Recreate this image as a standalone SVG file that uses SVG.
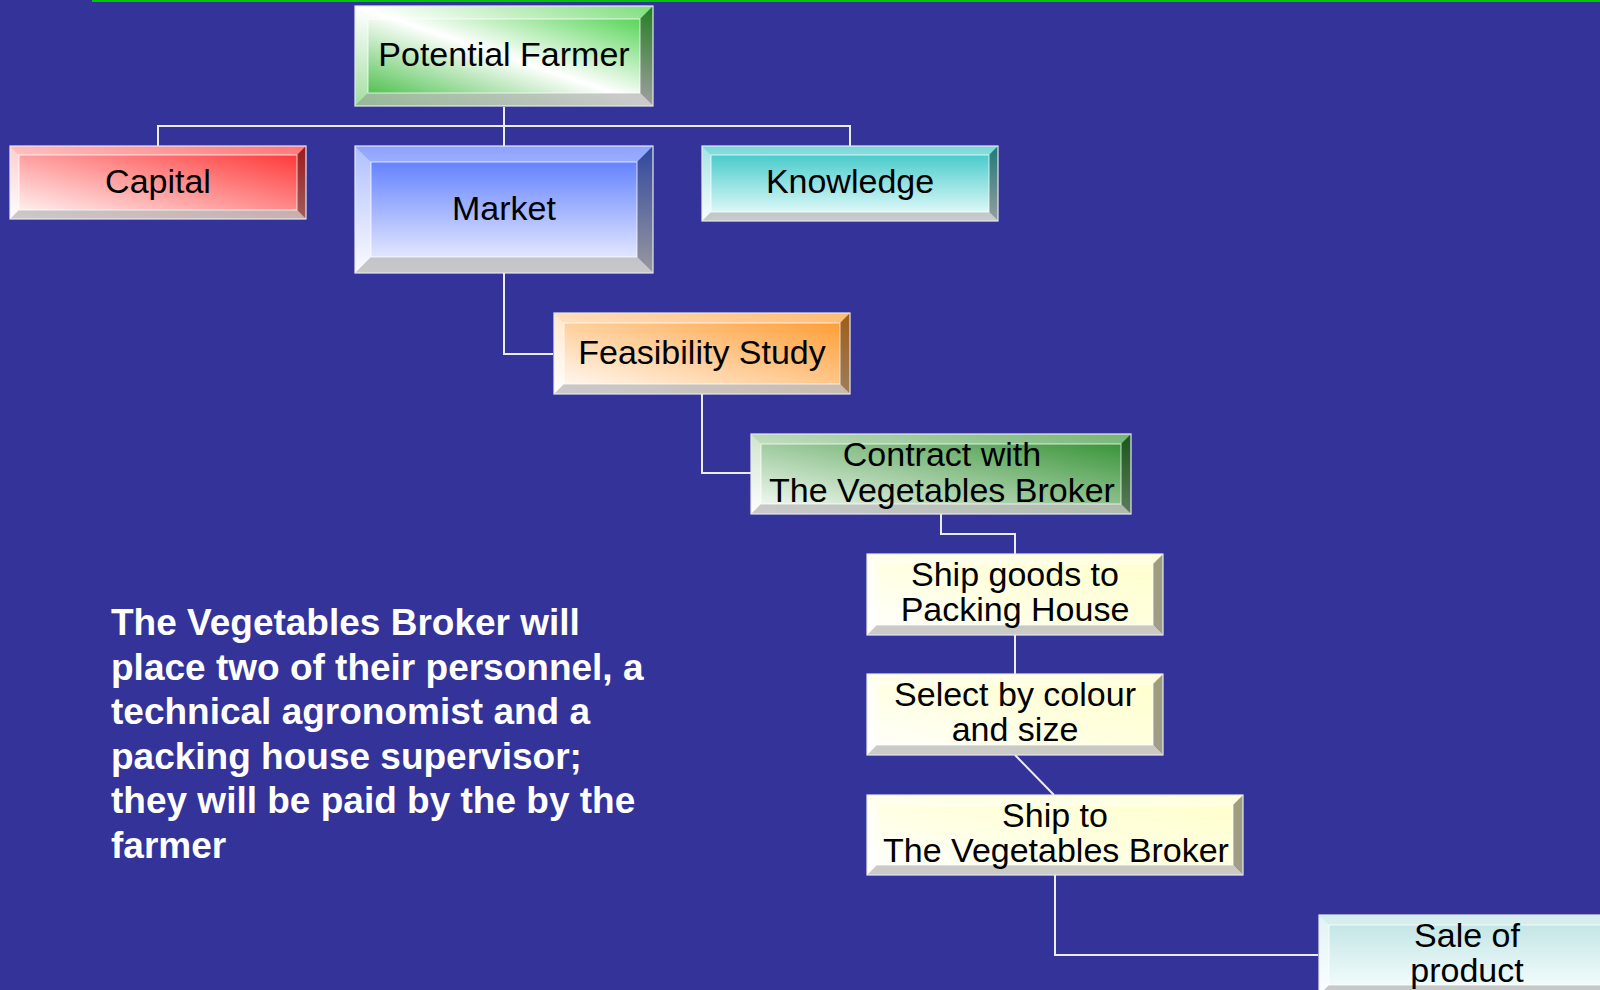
<svg xmlns="http://www.w3.org/2000/svg" width="1600" height="990" viewBox="0 0 1600 990">
<defs>
<linearGradient id="gPF" x1="0" y1="1" x2="1" y2="0"><stop offset="0" stop-color="#2fb52f"/><stop offset="0.5" stop-color="#ffffff"/><stop offset="1" stop-color="#36cc36"/></linearGradient>
<linearGradient id="gCap" x1="0" y1="1" x2="1" y2="0"><stop offset="0" stop-color="#ffffff"/><stop offset="1" stop-color="#ff2a2a"/></linearGradient>
<linearGradient id="gMkt" x1="0" y1="0" x2="0" y2="1"><stop offset="0" stop-color="#4f72ff"/><stop offset="1" stop-color="#f7f7ff"/></linearGradient>
<linearGradient id="gKn" x1="0" y1="0" x2="0" y2="1"><stop offset="0" stop-color="#33c4c4"/><stop offset="1" stop-color="#f2ffff"/></linearGradient>
<linearGradient id="gFS" x1="0" y1="1" x2="1" y2="0"><stop offset="0" stop-color="#ffffff"/><stop offset="1" stop-color="#ff9626"/></linearGradient>
<linearGradient id="gCon" x1="0" y1="1" x2="1" y2="0"><stop offset="0" stop-color="#ffffff"/><stop offset="1" stop-color="#2a8c2a"/></linearGradient>
<linearGradient id="gY" x1="0" y1="1" x2="1" y2="0"><stop offset="0" stop-color="#ffffff"/><stop offset="0.5" stop-color="#ffffe0"/><stop offset="1" stop-color="#ffffcc"/></linearGradient>
<linearGradient id="gSale" x1="0" y1="0" x2="0" y2="1"><stop offset="0" stop-color="#bde2e2"/><stop offset="1" stop-color="#f8ffff"/></linearGradient>
</defs>
<style>
.bt{fill:#ffffff;fill-opacity:0.35}
.bl{fill:#ffffff;fill-opacity:0.55}
.br{fill:#000000;fill-opacity:0.38}
.bb{fill:#b8b8b8;fill-opacity:0.75}
.in{fill:none;stroke:#ffffff;stroke-opacity:0.75;stroke-width:1}
.out{fill:none;stroke:#e8e8ee;stroke-width:1.2}
.lbl{font-family:"Liberation Sans",Arial,sans-serif;font-size:34px;fill:#000000;text-anchor:middle}
.body{font-family:"Liberation Sans",Arial,sans-serif;font-size:37px;font-weight:bold;fill:#ffffff}
.con{fill:none;stroke:#ececf6;stroke-width:2}
</style>
<rect x="0" y="0" width="1600" height="990" fill="#333399"/>
<line x1="92" y1="1" x2="1600" y2="1" stroke="#00c800" stroke-width="2"/>

<g id="connectors" class="con">
<polyline points="504,107 504,126"/>
<polyline points="158,146 158,126 850,126 850,146"/>
<polyline points="504,126 504,146"/>
<polyline points="504,273 504,354 553,354"/>
<polyline points="702,394 702,473 751,473"/>
<polyline points="941,514 941,534 1015,534 1015,554"/>
<polyline points="1015,635 1015,674"/>
<polyline points="1015,755 1054,795"/>
<polyline points="1055,875 1055,955 1318,955"/>
</g>

<g id="n-potential-farmer">
<rect x="355" y="6" width="298" height="100" fill="url(#gPF)"/>
<polygon class="bt" points="355,6 653,6 640,19 368,19"/>
<polygon class="bl" points="355,6 368,19 368,93 355,106"/>
<polygon class="br" points="653,6 653,106 640,93 640,19"/>
<polygon class="bb" points="355,106 368,93 640,93 653,106"/>
<rect class="in" x="368" y="19" width="272" height="74"/>
<rect class="out" x="355" y="6" width="298" height="100"/>
<text class="lbl" x="504" y="66">Potential Farmer</text>
</g>

<g id="n-capital">
<rect x="10" y="146" width="296" height="73" fill="url(#gCap)"/>
<polygon class="bt" points="10,146 306,146 297,155 19,155"/>
<polygon class="bl" points="10,146 19,155 19,210 10,219"/>
<polygon class="br" points="306,146 306,219 297,210 297,155"/>
<polygon class="bb" points="10,219 19,210 297,210 306,219"/>
<rect class="in" x="19" y="155" width="278" height="55"/>
<rect class="out" x="10" y="146" width="296" height="73"/>
<text class="lbl" x="158" y="193">Capital</text>
</g>

<g id="n-market">
<rect x="355" y="146" width="298" height="127" fill="url(#gMkt)"/>
<polygon class="bt" points="355,146 653,146 637,162 371,162"/>
<polygon class="bl" points="355,146 371,162 371,257 355,273"/>
<polygon class="br" points="653,146 653,273 637,257 637,162"/>
<polygon class="bb" points="355,273 371,257 637,257 653,273"/>
<rect class="in" x="371" y="162" width="266" height="95"/>
<rect class="out" x="355" y="146" width="298" height="127"/>
<text class="lbl" x="504" y="220">Market</text>
</g>

<g id="n-knowledge">
<rect x="702" y="146" width="296" height="75" fill="url(#gKn)"/>
<polygon class="bt" points="702,146 998,146 989,155 711,155"/>
<polygon class="bl" points="702,146 711,155 711,212 702,221"/>
<polygon class="br" points="998,146 998,221 989,212 989,155"/>
<polygon class="bb" points="702,221 711,212 989,212 998,221"/>
<rect class="in" x="711" y="155" width="278" height="57"/>
<rect class="out" x="702" y="146" width="296" height="75"/>
<text class="lbl" x="850" y="193">Knowledge</text>
</g>

<g id="n-feasibility">
<rect x="554" y="313" width="296" height="81" fill="url(#gFS)"/>
<polygon class="bt" points="554,313 850,313 840,323 564,323"/>
<polygon class="bl" points="554,313 564,323 564,384 554,394"/>
<polygon class="br" points="850,313 850,394 840,384 840,323"/>
<polygon class="bb" points="554,394 564,384 840,384 850,394"/>
<rect class="in" x="564" y="323" width="276" height="61"/>
<rect class="out" x="554" y="313" width="296" height="81"/>
<text class="lbl" x="702" y="364">Feasibility Study</text>
</g>

<g id="n-contract">
<rect x="751" y="434" width="380" height="80" fill="url(#gCon)"/>
<polygon class="bt" points="751,434 1131,434 1121,444 761,444"/>
<polygon class="bl" points="751,434 761,444 761,504 751,514"/>
<polygon class="br" points="1131,434 1131,514 1121,504 1121,444"/>
<polygon class="bb" points="751,514 761,504 1121,504 1131,514"/>
<rect class="in" x="761" y="444" width="360" height="60"/>
<rect class="out" x="751" y="434" width="380" height="80"/>
<text class="lbl" x="942" y="466">Contract with</text>
<text class="lbl" x="942" y="502">The Vegetables Broker</text>
</g>

<g id="n-ship-goods">
<rect x="867" y="554" width="296" height="81" fill="url(#gY)"/>
<polygon class="bt" points="867,554 1163,554 1153,564 877,564"/>
<polygon class="bl" points="867,554 877,564 877,625 867,635"/>
<polygon class="br" points="1163,554 1163,635 1153,625 1153,564"/>
<polygon class="bb" points="867,635 877,625 1153,625 1163,635"/>
<rect class="in" x="877" y="564" width="276" height="61"/>
<rect class="out" x="867" y="554" width="296" height="81"/>
<text class="lbl" x="1015" y="586">Ship goods to</text>
<text class="lbl" x="1015" y="621">Packing House</text>
</g>

<g id="n-select">
<rect x="867" y="674" width="296" height="81" fill="url(#gY)"/>
<polygon class="bt" points="867,674 1163,674 1153,684 877,684"/>
<polygon class="bl" points="867,674 877,684 877,745 867,755"/>
<polygon class="br" points="1163,674 1163,755 1153,745 1153,684"/>
<polygon class="bb" points="867,755 877,745 1153,745 1163,755"/>
<rect class="in" x="877" y="684" width="276" height="61"/>
<rect class="out" x="867" y="674" width="296" height="81"/>
<text class="lbl" x="1015" y="706">Select by colour</text>
<text class="lbl" x="1015" y="741">and size</text>
</g>

<g id="n-ship-broker">
<rect x="867" y="795" width="376" height="80" fill="url(#gY)"/>
<polygon class="bt" points="867,795 1243,795 1233,805 877,805"/>
<polygon class="bl" points="867,795 877,805 877,865 867,875"/>
<polygon class="br" points="1243,795 1243,875 1233,865 1233,805"/>
<polygon class="bb" points="867,875 877,865 1233,865 1243,875"/>
<rect class="in" x="877" y="805" width="356" height="60"/>
<rect class="out" x="867" y="795" width="376" height="80"/>
<text class="lbl" x="1055" y="827">Ship to</text>
<text class="lbl" x="1056" y="862">The Vegetables Broker</text>
</g>

<g id="n-sale">
<rect x="1319" y="915" width="296" height="80" fill="url(#gSale)"/>
<polygon class="bt" points="1319,915 1615,915 1605,925 1329,925"/>
<polygon class="bl" points="1319,915 1329,925 1329,985 1319,995"/>
<polygon class="bb" points="1319,995 1329,985 1605,985 1615,995"/>
<rect class="in" x="1329" y="925" width="276" height="60"/>
<rect class="out" x="1319" y="915" width="296" height="80"/>
<text class="lbl" x="1467" y="947">Sale of</text>
<text class="lbl" x="1467" y="982">product</text>
</g>

<g id="note">
<text class="body" x="111" y="635">The Vegetables Broker will</text>
<text class="body" x="111" y="680">place two of their personnel, a</text>
<text class="body" x="111" y="724">technical agronomist and a</text>
<text class="body" x="111" y="769">packing house supervisor;</text>
<text class="body" x="111" y="813">they will be paid by the by the</text>
<text class="body" x="111" y="858">farmer</text>
</g>
</svg>
